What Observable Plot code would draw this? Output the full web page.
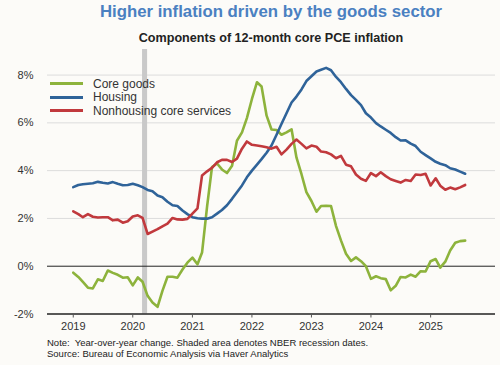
<!DOCTYPE html>
<html>
<head>
<meta charset="utf-8">
<script src="https://cdn.jsdelivr.net/npm/d3@7"></script>
<script src="https://cdn.jsdelivr.net/npm/@observablehq/plot@0.6"></script>
<style>
  html, body { margin: 0; padding: 0; background: #fcfbf8; }
  #wrap { position: relative; width: 500px; height: 365px; font-family: "Liberation Sans", Arial, sans-serif; background: #fcfbf8; overflow: hidden; }
  #title { position: absolute; left: 47px; width: 448px; top: 2px; line-height: 20px; text-align: center; font-size: 16.8px; font-weight: bold; color: #4a80c1; white-space: nowrap; }
  #subtitle { position: absolute; left: 47px; width: 448px; top: 30px; line-height: 16px; text-align: center; font-size: 12.6px; font-weight: bold; color: #222; white-space: nowrap; }
  #chart { position: absolute; left: 0; top: 0; }
  #legend { position: absolute; left: 50px; top: 77px; font-size: 12px; color: #333; }
  .item { display: flex; align-items: center; height: 13.5px; }
  .sw { width: 33px; height: 3px; margin-right: 10px; }
  #footer { position: absolute; left: 47px; top: 338px; font-size: 9.5px; line-height: 10.5px; color: #222; white-space: pre; }
</style>
</head>
<body>
<div id="wrap">
  <div id="chart"></div>
  <div id="title">Higher inflation driven by the goods sector</div>
  <div id="subtitle">Components of 12-month core PCE inflation</div>
  <div id="legend"></div>
  <div id="footer"></div>
</div>
<script>
// Monthly observations, Jan 2019 – Aug 2025 (percent, year-over-year)
const seriesNames = ["Core goods", "Housing", "Nonhousing core services"];
const seriesColors = ["#8db33c", "#2f6399", "#c1393d"];

const coreGoods = [
  -0.27, -0.45, -0.66, -0.90, -0.93, -0.55, -0.62, -0.18, -0.28, -0.36, -0.48, -0.46,
  -0.80, -0.47, -0.65, -1.24, -1.52, -1.70, -1.03, -0.44, -0.44, -0.48, -0.14, 0.15,
  0.36, 0.08, 0.57, 2.50, 4.15, 4.30, 4.05, 3.90, 4.20, 5.25, 5.60, 6.20,
  7.00, 7.70, 7.52, 6.30, 5.72, 5.70, 5.50, 5.60, 5.73, 4.55, 3.85, 3.10,
  2.73, 2.28, 2.52, 2.53, 2.52, 1.68, 1.08, 0.52, 0.22, 0.37, 0.21, 0.00,
  -0.53, -0.42, -0.50, -0.54, -1.01, -0.82, -0.45, -0.47, -0.35, -0.44, -0.21, -0.22,
  0.21, 0.30, -0.06, 0.19, 0.66, 0.98, 1.05, 1.07
];
const housing = [
  3.31, 3.40, 3.43, 3.45, 3.47, 3.53, 3.49, 3.46, 3.52, 3.45, 3.39, 3.40,
  3.45, 3.39, 3.31, 3.19, 3.14, 2.96, 2.89, 2.70, 2.55, 2.52, 2.33, 2.18,
  2.05, 2.01, 1.99, 1.99, 2.05, 2.20, 2.35, 2.55, 2.82, 3.10, 3.38, 3.72,
  4.00, 4.25, 4.48, 4.75, 5.05, 5.50, 5.95, 6.40, 6.85, 7.10, 7.40, 7.75,
  7.95, 8.15, 8.22, 8.30, 8.20, 7.92, 7.70, 7.42, 7.16, 6.96, 6.74, 6.40,
  6.22, 5.99, 5.85, 5.71, 5.58, 5.40, 5.26, 5.27, 5.13, 5.03, 4.79, 4.65,
  4.51, 4.37, 4.29, 4.23, 4.10, 4.05, 3.96, 3.87
];
const nonhousing = [
  2.30, 2.18, 2.05, 2.18, 2.07, 2.04, 2.05, 2.05, 1.92, 1.95, 1.82, 1.88,
  2.08, 2.13, 2.02, 1.35, 1.45, 1.55, 1.67, 1.78, 2.02, 1.96, 1.95, 1.98,
  2.20, 2.42, 3.80, 3.97, 4.12, 4.35, 4.45, 4.45, 4.36, 4.50, 4.92, 5.22,
  5.08, 5.05, 5.02, 4.98, 4.92, 5.00, 4.68, 4.88, 5.12, 5.30, 5.12, 4.93,
  5.05, 5.00, 4.80, 4.77, 4.68, 4.52, 4.62, 4.25, 4.18, 3.84, 3.66, 3.57,
  3.90, 3.77, 3.93, 3.77, 3.64, 3.57, 3.50, 3.61, 3.57, 3.84, 3.82, 3.87,
  3.38, 3.68, 3.37, 3.20, 3.29, 3.22, 3.30, 3.40
];
const yTicks = [-2, 0, 2, 4, 6, 8];
const gridTicks = [2, 4, 6, 8];
const yearTicks = ["2019", "2020", "2021", "2022", "2023", "2024", "2025"];
const recession = [{start: "2020-03-01", end: "2020-04-01"}];
const noteText = "Note:  Year-over-year change. Shaded area denotes NBER recession dates.\nSource: Bureau of Economic Analysis via Haver Analytics";

const months = d3.utcMonth.range(new Date(Date.UTC(2019, 0, 1)), new Date(Date.UTC(2025, 8, 1)));
const allValues = [coreGoods, housing, nonhousing];
const rows = [];
allValues.forEach((arr, s) => arr.forEach((v, i) => rows.push({date: months[i], value: v, series: seriesNames[s]})));
const recRows = recession.map(r => ({x1: new Date(r.start), x2: new Date(r.end)}));

const chart = Plot.plot({
  width: 500,
  height: 340,
  marginLeft: 47,
  marginRight: 5,
  marginTop: 49,
  marginBottom: 26.5,
  style: {background: "transparent", fontFamily: "'Liberation Sans', Arial, sans-serif", fontSize: "11px", color: "#333"},
  x: {type: "utc", domain: [new Date(Date.UTC(2018, 6, 27)), new Date(Date.UTC(2026, 1, 3))]},
  y: {domain: [-2, 9.07]},
  color: {domain: seriesNames, range: seriesColors},
  marks: [
    Plot.gridY(gridTicks, {stroke: "#dcdcdc", strokeOpacity: 1, strokeWidth: 1}),
    Plot.rect(recRows, {x1: "x1", x2: "x2", fill: "#c9c9c9"}),
    Plot.ruleY([0], {stroke: "#222", strokeWidth: 1}),
    Plot.line(rows, {x: "date", y: "value", z: "series", stroke: "series", strokeWidth: 2.6, strokeLinejoin: "round"}),
    Plot.ruleY([-2], {stroke: "#222", strokeWidth: 1.5}),
    Plot.axisY(yTicks, {tickSize: 0, tickPadding: 14, tickFormat: d => d + "%", label: null, fill: "#333"}),
    Plot.axisX(yearTicks.map(y => new Date(y + "-01-01")), {tickSize: 4, tickPadding: 4, tickFormat: d3.utcFormat("%Y"), label: null, stroke: "#555", fill: "#333"})
  ]
});
document.getElementById("chart").appendChild(chart);

const legend = document.getElementById("legend");
seriesNames.forEach((n, i) => {
  const it = document.createElement("div");
  it.className = "item";
  const sw = document.createElement("div");
  sw.className = "sw";
  sw.style.background = seriesColors[i];
  const lab = document.createElement("span");
  lab.textContent = n;
  it.appendChild(sw); it.appendChild(lab);
  legend.appendChild(it);
});
document.getElementById("footer").textContent = noteText;
</script>
</body>
</html>
